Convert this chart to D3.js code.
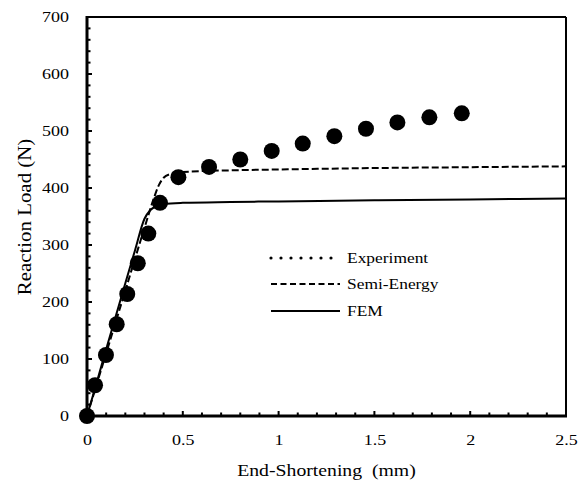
<!DOCTYPE html>
<html><head><meta charset="utf-8">
<script src="https://cdn.jsdelivr.net/npm/d3@7"></script>
<style>body{margin:0;background:#fff}svg{display:block}</style>
</head><body><svg id="c" width="583" height="481"></svg>
<script>
const expX = [0,0.042,0.099,0.155,0.21,0.265,0.32,0.381,0.477,0.637,0.80,0.964,1.126,1.291,1.456,1.62,1.787,1.956];
const expY = [0,54,107,161,214,268,320,374,419,437,450,465,478,491,504,515,524,531];
const semiX = [0,0.1,0.2,0.3,0.35,0.375,0.4,0.43,0.5,0.75,1,1.5,2,2.5];
const semiY = [0,110,220,330,383,405,418,424,428,431,432.5,435,436.5,438];
const femX = [0,0.05,0.1,0.15,0.2,0.25,0.3,0.33,0.36,0.4,0.5,0.75,1,1.5,2,2.5];
const femY = [0,58,117,175,233,290,346,361,368,372,374,375.5,376.5,378.5,380,381.5];
const xTicks = [0,0.5,1,1.5,2,2.5];
const xTickLabels = ["0","0.5","1","1.5","2","2.5"];
const yTicks = [0,100,200,300,400,500,600,700];
const legendNames = ["Experiment","Semi-Energy","FEM"];
const FONT = "Liberation Serif";

const svg = d3.select("#c");
const x = d3.scaleLinear().domain([0,2.5]).range([87,566]);
const y = d3.scaleLinear().domain([0,700]).range([416,17]);

svg.append("line").attr("x1",x(0)).attr("x2",x(2.5)).attr("y1",y(700)).attr("y2",y(700)).attr("stroke","#000").attr("stroke-width",2);
svg.append("line").attr("x1",x(2.5)).attr("x2",x(2.5)).attr("y1",y(700)).attr("y2",y(0)).attr("stroke","#000").attr("stroke-width",2);

const xMinor = d3.range(0,2.5001,0.1);
svg.append("g").selectAll("line").data(xMinor).join("line")
  .attr("x1",d=>x(d)).attr("x2",d=>x(d)).attr("y1",y(0)).attr("y2",d=>y(0)-(Math.abs(d*2-Math.round(d*2))<1e-6?5:3.5))
  .attr("stroke","#000").attr("stroke-width",2);
const yMinor = d3.range(0,700.001,20);
svg.append("g").selectAll("line").data(yMinor).join("line")
  .attr("y1",d=>y(d)).attr("y2",d=>y(d)).attr("x1",x(0)).attr("x2",d=>x(0)+(Math.round(d)%100===0?5:3.5))
  .attr("stroke","#000").attr("stroke-width",2);

const xAxis = d3.axisBottom(x).tickValues(xTicks).tickFormat((d,i)=>xTickLabels[i]).tickSize(0).tickPadding(18);
const gx = svg.append("g").attr("transform",`translate(0,${y(0)})`).call(xAxis).attr("font-family",FONT).attr("font-size",15.5);
gx.select(".domain").attr("stroke-width",3).attr("d",`M${x(0)-1.5},0H${x(2.5)+1}`);
const yAxis = d3.axisLeft(y).tickValues(yTicks).tickSize(0).tickPadding(18);
const gy = svg.append("g").attr("transform",`translate(${x(0)},0)`).call(yAxis).attr("font-family",FONT).attr("font-size",15.5);
gy.select(".domain").attr("stroke-width",3).attr("d",`M0,${y(0)+1.5}V${y(700)-1}`);

svg.append("text").attr("x",(x(0)+x(2.5))/2).attr("y",476).attr("text-anchor","middle").attr("font-family",FONT).attr("font-size",17).attr("xml:space","preserve").style("white-space","pre").text("End-Shortening  (mm)");
svg.append("text").attr("transform",`translate(31,217) rotate(-90)`).attr("text-anchor","middle").attr("font-family",FONT).attr("font-size",18).text("Reaction Load (N)");

const line = d3.line().x(d=>x(d[0])).y(d=>y(d[1])).curve(d3.curveMonotoneX);
svg.append("path").datum(semiX.map((v,i)=>[v,semiY[i]])).attr("d",line).attr("fill","none").attr("stroke","#000").attr("stroke-width",2).attr("stroke-dasharray","7,3");
svg.append("path").datum(femX.map((v,i)=>[v,femY[i]])).attr("d",line).attr("fill","none").attr("stroke","#000").attr("stroke-width",2);

svg.append("g").selectAll("circle").data(expX.map((v,i)=>[v,expY[i]])).join("circle")
  .attr("cx",d=>x(d[0])).attr("cy",d=>y(d[1])).attr("r",8).attr("fill","#000");

const lg = svg.append("g");
const ly = [258,284,311];
lg.append("line").attr("x1",271).attr("x2",339).attr("y1",ly[0]).attr("y2",ly[0]).attr("stroke","#000").attr("stroke-width",3.2).attr("stroke-linecap","round").attr("stroke-dasharray","0,10");
lg.append("line").attr("x1",271).attr("x2",340).attr("y1",ly[1]).attr("y2",ly[1]).attr("stroke","#000").attr("stroke-width",2).attr("stroke-dasharray","6,3.5");
lg.append("line").attr("x1",271).attr("x2",340).attr("y1",ly[2]).attr("y2",ly[2]).attr("stroke","#000").attr("stroke-width",2);
lg.selectAll("text").data(legendNames).join("text").attr("x",347).attr("y",(d,i)=>ly[i]+5).attr("font-family",FONT).attr("font-size",15).text(d=>d);

// widen glyphs slightly to match reference typography
svg.selectAll("text").each(function(){
  const L = this.getComputedTextLength();
  d3.select(this).attr("textLength", L*1.16).attr("lengthAdjust","spacingAndGlyphs");
});
</script></body></html>
